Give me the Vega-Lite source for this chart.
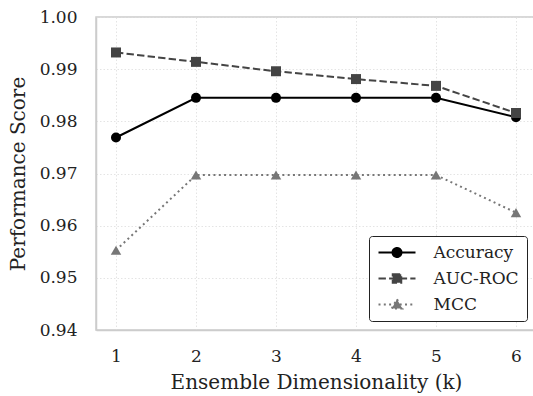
{
  "$schema": "https://vega.github.io/schema/vega-lite/v6.json",
  "width": 440,
  "height": 313,
  "autosize": {"type": "none"},
  "padding": {"left": 96, "top": 17, "right": 0, "bottom": 66},
  "background": "white",
  "data": {
    "values": [
      {"k": 1, "metric": "Accuracy", "score": 0.9769},
      {"k": 2, "metric": "Accuracy", "score": 0.9845},
      {"k": 3, "metric": "Accuracy", "score": 0.9845},
      {"k": 4, "metric": "Accuracy", "score": 0.9845},
      {"k": 5, "metric": "Accuracy", "score": 0.9845},
      {"k": 6, "metric": "Accuracy", "score": 0.9808},
      {"k": 1, "metric": "AUC-ROC", "score": 0.9932},
      {"k": 2, "metric": "AUC-ROC", "score": 0.9914},
      {"k": 3, "metric": "AUC-ROC", "score": 0.9896},
      {"k": 4, "metric": "AUC-ROC", "score": 0.9881},
      {"k": 5, "metric": "AUC-ROC", "score": 0.9868},
      {"k": 6, "metric": "AUC-ROC", "score": 0.9816},
      {"k": 1, "metric": "MCC", "score": 0.9553},
      {"k": 2, "metric": "MCC", "score": 0.9697},
      {"k": 3, "metric": "MCC", "score": 0.9697},
      {"k": 4, "metric": "MCC", "score": 0.9697},
      {"k": 5, "metric": "MCC", "score": 0.9697},
      {"k": 6, "metric": "MCC", "score": 0.9625}
    ]
  },
  "encoding": {
    "x": {
      "field": "k", "type": "quantitative",
      "scale": {"domain": [0.75, 6.25], "nice": false, "zero": false},
      "axis": {"values": [1, 2, 3, 4, 5, 6], "title": "Ensemble Dimensionality (k)", "labelPadding": 18, "titlePadding": 8}
    },
    "y": {
      "field": "score", "type": "quantitative",
      "scale": {"domain": [0.94, 1.0], "nice": false, "zero": false},
      "axis": {"values": [0.94, 0.95, 0.96, 0.97, 0.98, 0.99, 1.0], "format": ".2f", "title": "Performance Score", "labelPadding": 19, "titlePadding": 11}
    }
  },
  "layer": [
    {
      "transform": [{"filter": "datum.metric === 'Accuracy'"}],
      "mark": {"type": "line", "strokeWidth": 2, "color": "#000000"},
      "encoding": {}
    },
    {
      "transform": [{"filter": "datum.metric === 'Accuracy'"}],
      "mark": {"type": "point", "shape": "circle", "filled": true, "size": 100, "opacity": 1, "color": "#000000"},
      "encoding": {}
    },
    {
      "transform": [{"filter": "datum.metric === 'AUC-ROC'"}],
      "mark": {"type": "line", "strokeWidth": 2, "color": "#444444", "strokeDash": [7.4, 3.2]},
      "encoding": {}
    },
    {
      "transform": [{"filter": "datum.metric === 'AUC-ROC'"}],
      "mark": {"type": "point", "shape": "square", "filled": true, "size": 100, "opacity": 1, "color": "#444444"},
      "encoding": {}
    },
    {
      "transform": [{"filter": "datum.metric === 'MCC'"}],
      "mark": {"type": "line", "strokeWidth": 2, "color": "#777777", "strokeDash": [2, 3.3]},
      "encoding": {}
    },
    {
      "transform": [{"filter": "datum.metric === 'MCC'"}],
      "mark": {"type": "point", "shape": "triangle-up", "filled": true, "size": 110, "opacity": 1, "color": "#777777"},
      "encoding": {}
    },
    {
      "mark": {"type": "point", "filled": true, "size": 100, "opacity": 0},
      "encoding": {
        "fill": {"field": "metric", "type": "nominal", "legend": {"title": null},
          "scale": {"domain": ["Accuracy", "AUC-ROC", "MCC"], "range": ["#000000", "#444444", "#777777"]}},
        "stroke": {"field": "metric", "type": "nominal", "legend": {"title": null},
          "scale": {"domain": ["Accuracy", "AUC-ROC", "MCC"], "range": ["#000000", "#444444", "#777777"]}},
        "strokeDash": {"field": "metric", "type": "nominal", "legend": {"title": null},
          "scale": {"domain": ["Accuracy", "AUC-ROC", "MCC"], "range": [[1, 0], [7.4, 3.2], [2, 3.3]]}},
        "shape": {
          "field": "metric", "type": "nominal",
          "scale": {"domain": ["Accuracy", "AUC-ROC", "MCC"], "range": [
            "M-3.7,0L3.7,0M0.9,0A0.9,0.9,0,1,1,-0.9,0A0.9,0.9,0,1,1,0.9,0Z",
            "M-3.7,0L3.7,0M-0.85,-0.85L0.85,-0.85L0.85,0.85L-0.85,0.85Z",
            "M-3.7,0L3.7,0M0,-1.05L1.05,0.8L-1.05,0.8Z"
          ]},
          "legend": {
            "title": null,
            "orient": "bottom-right",
            "offset": 9,
            "padding": 8,
            "fillColor": "white",
            "strokeColor": "#222222",
            "cornerRadius": 3,
            "symbolSize": 100,
            "symbolOffset": 11.5,
            "labelOffset": 28,
            "rowPadding": 8,
            "symbolOpacity": 1,
            "symbolStrokeWidth": 2,
            "labelFont": "DejaVu Serif",
            "labelFontSize": 17,
            "labelColor": "#222222"
          }
        }
      }
    }
  ],
  "config": {
    "font": "DejaVu Serif",
    "view": {"stroke": "#cccccc", "strokeWidth": 1.5},
    "axis": {
      "labelFont": "DejaVu Serif",
      "labelFontSize": 17,
      "labelColor": "#222222",
      "titleFont": "DejaVu Serif",
      "titleFontSize": 20,
      "titleFontWeight": "normal",
      "titleColor": "#222222",
      "ticks": false,
      "domainColor": "#cccccc",
      "domainWidth": 1.5,
      "gridColor": "#dddddd",
      "gridDash": [1.5, 2],
      "gridWidth": 0.8
    }
  }
}
